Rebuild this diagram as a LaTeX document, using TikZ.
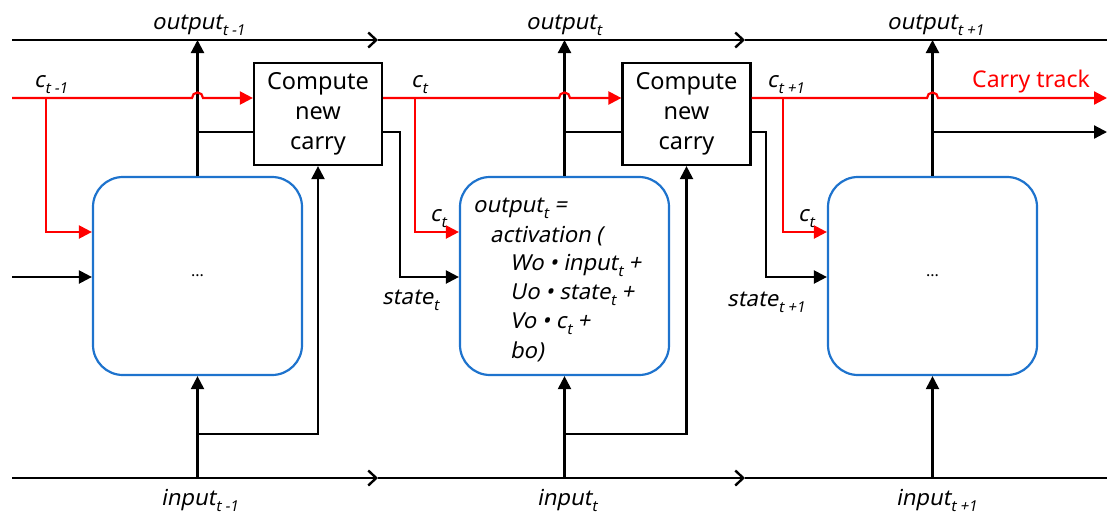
\documentclass[tikz,border=0pt]{standalone}
\usepackage{fontspec}
\setmainfont{Noto Sans}
\newfontfamily\itf[FakeSlant=0.2]{Noto Sans}
\usetikzlibrary{arrows.meta}
\definecolor{cellblue}{RGB}{30,115,205}
\definecolor{carryred}{RGB}{255,0,0}
\newcommand\mysub[1]{\raisebox{-0.3em}{\fontsize{15}{15}\selectfont #1}}
\tikzset{
  line/.style={line width=2.2pt, draw=black},
  redline/.style={line width=2.2pt, draw=carryred},
  tip/.style={-{Triangle[length=13pt,width=13pt]}},
  opentip/.style={-{Straight Barb[length=8pt,width=15pt,line width=2.4pt]}},
  computebox/.style={draw, line width=2.2pt, minimum width=128pt, minimum height=102pt, align=center, font=\fontsize{23.5}{30}\selectfont, inner sep=0pt},
  cell/.style={draw=cellblue, line width=2.2pt, rounded corners=30pt, minimum width=209pt, minimum height=198pt, inner sep=0pt},
  lab/.style={font=\fontsize{22}{22}\selectfont\itf, inner sep=0pt, anchor=base west},
  blab/.style={font=\fontsize{22}{29}\selectfont\itf, inner sep=0pt, anchor=base west},
}
\begin{document}
\begin{tikzpicture}[x=1pt,y=-1pt]
\useasboundingbox (0,0) rectangle (1107,517);
% boxes
\node[computebox] (cb1) at (318,114) {Compute\\new\\carry};
\node[computebox] (cb2) at (686.5,114) {Compute\\new\\carry};
\node[cell] (cA) at (197.5,276) {\fontsize{16}{16}\selectfont ...};
\node[cell] (cB) at (564.5,276) {};
\node[cell] (cC) at (932.5,276) {\fontsize{16}{16}\selectfont ...};
% coordinates
\coordinate (tL) at (12,40);
\coordinate (tM1) at (378,40);
\coordinate (tM2) at (745,40);
\coordinate (tR) at (1107,40);
\coordinate (bL) at (12,478);
\coordinate (bM1) at (378,478);
\coordinate (bM2) at (745,478);
\coordinate (bR) at (1107,478);
\coordinate (rL) at (12,98);
\coordinate (rR) at (1107,98);
\coordinate (sL) at (12,277);
\coordinate (oR) at (1107,132);
% top and bottom tracks
\draw[line, opentip] (tL) -- (tM1);
\draw[line, opentip] (tM1) -- (tM2);
\draw[line] (tM2) -- (tR);
\draw[line, opentip] (bL) -- (bM1);
\draw[line, opentip] (bM1) -- (bM2);
\draw[line] (bM2) -- (bR);
% outputs
\draw[line, tip] (cA.north) -- (cA.north |- tL);
\draw[line, tip] (cB.north) -- (cB.north |- tL);
\draw[line, tip] (cC.north) -- (cC.north |- tL);
\draw[line] (cA.north |- 0,132) -- (cb1.west |- 0,132);
\draw[line] (cB.north |- 0,132) -- (cb2.west |- 0,132);
\draw[line, tip] (cC.north |- 0,132) -- (oR);
% inputs
\draw[line, tip] (cA.south |- bL) -- (cA.south);
\draw[line, tip] (cB.south |- bL) -- (cB.south);
\draw[line, tip] (cC.south |- bL) -- (cC.south);
\draw[line, tip] (cA.south |- 0,434) -- (cb1.south |- 0,434) -- (cb1.south);
\draw[line, tip] (cB.south |- 0,434) -- (cb2.south |- 0,434) -- (cb2.south);
% states
\draw[line, tip] (sL) -- (cA.west |- sL);
\draw[line, tip] (cb1.east |- 0,132) -- (400,132) -- (400,277) -- (cB.west |- 0,277);
\draw[line, tip] (cb2.east |- 0,132) -- (766,132) -- (766,277) -- (cC.west |- 0,277);
% carry track
\draw[redline, tip] (rL) -- (192,98) arc[start angle=180, end angle=0, radius=5.5pt] -- (cb1.west |- rL);
\draw[redline, tip] (cb1.east |- rL) -- (559,98) arc[start angle=180, end angle=0, radius=5.5pt] -- (cb2.west |- rL);
\draw[redline, tip] (cb2.east |- rL) -- (927,98) arc[start angle=180, end angle=0, radius=5.5pt] -- (rR);
\draw[redline, tip] (46,98) -- (46,232) -- (cA.west |- 0,232);
\draw[redline, tip] (415,98) -- (415,232) -- (cB.west |- 0,232);
\draw[redline, tip] (783,98) -- (783,232) -- (cC.west |- 0,232);
% labels
\node[lab] (lo1) at (152,29) {output\mysub{{\itf t} -1}};
\node[lab] (lo2) at (526,29) {output\mysub{\itf t}};
\node[lab] (lo3) at (887,29) {output\mysub{{\itf t} +1}};
\node[lab] (lc1) at (34,87) {c\mysub{{\itf t} -1}};
\node[lab] (lc2) at (411,87) {c\mysub{\itf t}};
\node[lab] (lc3) at (767,87) {c\mysub{{\itf t} +1}};
\node[lab] (lcb) at (430,221) {c\mysub{\itf t}};
\node[lab] (lcc) at (798,221) {c\mysub{\itf t}};
\node[lab] (ls2) at (382,304) {state\mysub{\itf t}};
\node[lab] (ls3) at (727,306) {state\mysub{{\itf t} +1}};
\node[lab] (li1) at (161,505) {input\mysub{{\itf t} -1}};
\node[lab] (li2) at (537,505) {input\mysub{\itf t}};
\node[lab] (li3) at (896,505) {input\mysub{{\itf t} +1}};
\node[anchor=base west, inner sep=0pt, text=carryred, font=\fontsize{23}{23}\selectfont] (ct) at (972,87) {Carry track};
% formula
\node[blab] (f1) at (473,212) {output\mysub{\itf t} =};
\node[blab] (f2) at (490,242) {activation (};
\node[blab] (f3) at (510,270) {Wo \textbullet\ input\mysub{\itf t} +};
\node[blab] (f4) at (510,299) {Uo \textbullet\ state\mysub{\itf t} +};
\node[blab] (f5) at (510,328) {Vo \textbullet\ c\mysub{\itf t} +};
\node[blab] (f6) at (510,358) {bo)};
\end{tikzpicture}
\end{document}
